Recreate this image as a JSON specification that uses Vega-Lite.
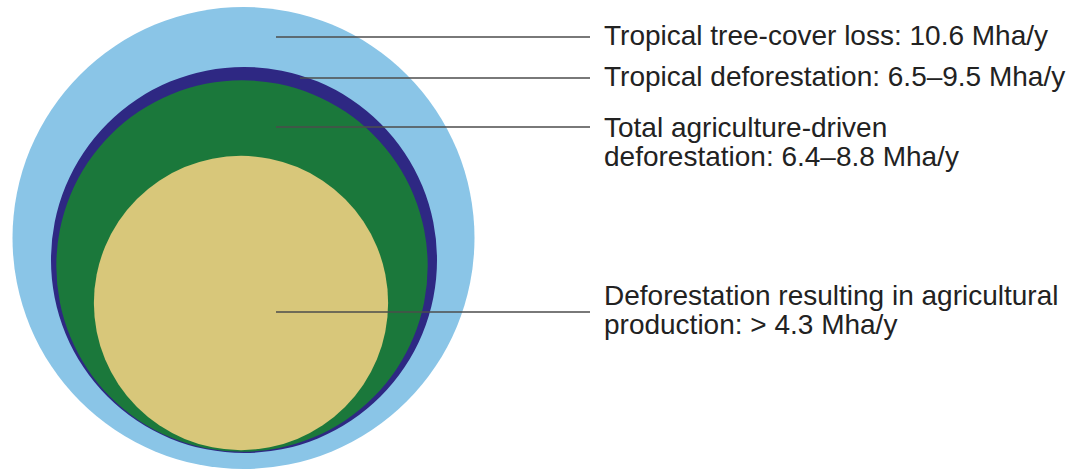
{
  "$schema": "https://vega.github.io/schema/vega-lite/v6.json",
  "autosize": {"type": "fit", "contains": "padding"},
  "width": 1068,
  "height": 475,
  "padding": 0,
  "background": "white",
  "config": {"view": {"stroke": null}},
  "datasets": {
    "circles": [
      {"name": "Tropical tree-cover loss", "area": 10.6, "cx": 243.5, "cy": 238},
      {"name": "Tropical deforestation", "area": 7.4, "cx": 244, "cy": 260},
      {"name": "Total agriculture-driven deforestation", "area": 6.85, "cx": 242, "cy": 266},
      {"name": "Deforestation resulting in agricultural production", "area": 4.3, "cx": 241, "cy": 303}
    ],
    "labels": [
      {"name": "Tropical tree-cover loss", "x0": 276, "x1": 590, "ry": 37, "tx": 604, "ty": 45, "label": ["Tropical tree-cover loss: 10.6 Mha/y"]},
      {"name": "Tropical deforestation", "x0": 300, "x1": 590, "ry": 78, "tx": 604, "ty": 86, "label": ["Tropical deforestation: 6.5–9.5 Mha/y"]},
      {"name": "Total agriculture-driven deforestation", "x0": 276, "x1": 590, "ry": 127, "tx": 604, "ty": 137, "label": ["Total agriculture-driven", "deforestation: 6.4–8.8 Mha/y"]},
      {"name": "Deforestation resulting in agricultural production", "x0": 276, "x1": 590, "ry": 312, "tx": 604, "ty": 305, "label": ["Deforestation resulting in agricultural", "production: > 4.3 Mha/y"]}
    ]
  },
  "layer": [
    {
      "data": {"name": "circles"},
      "mark": {"type": "circle", "opacity": 1, "strokeWidth": 0},
      "encoding": {
        "x": {"field": "cx", "type": "quantitative", "scale": {"domain": [0, 1068], "nice": false, "zero": false}, "axis": null},
        "y": {"field": "cy", "type": "quantitative", "scale": {"domain": [0, 475], "nice": false, "zero": false, "reverse": true}, "axis": null},
        "size": {"field": "area", "type": "quantitative", "scale": {"type": "linear", "domain": [0, 10.6], "range": [0, 213444]}, "legend": null},
        "color": {"field": "name", "type": "nominal", "legend": null,
          "scale": {"domain": ["Tropical tree-cover loss", "Tropical deforestation", "Total agriculture-driven deforestation", "Deforestation resulting in agricultural production"],
                    "range": ["#8ac5e7", "#2e2883", "#1b783b", "#d8c77a"]}},
        "order": {"field": "area", "type": "quantitative", "sort": "descending"}
      }
    },
    {
      "data": {"name": "labels"},
      "mark": {"type": "rule", "color": "#4d4d4d", "strokeWidth": 1.5},
      "encoding": {
        "x": {"field": "x0", "type": "quantitative"},
        "x2": {"field": "x1"},
        "y": {"field": "ry", "type": "quantitative"}
      }
    },
    {
      "data": {"name": "labels"},
      "mark": {"type": "text", "align": "left", "baseline": "alphabetic", "font": "Liberation Sans", "fontSize": 28, "lineHeight": 29, "color": "#222222"},
      "encoding": {
        "x": {"field": "tx", "type": "quantitative"},
        "y": {"field": "ty", "type": "quantitative"},
        "text": {"field": "label"}
      }
    }
  ]
}
